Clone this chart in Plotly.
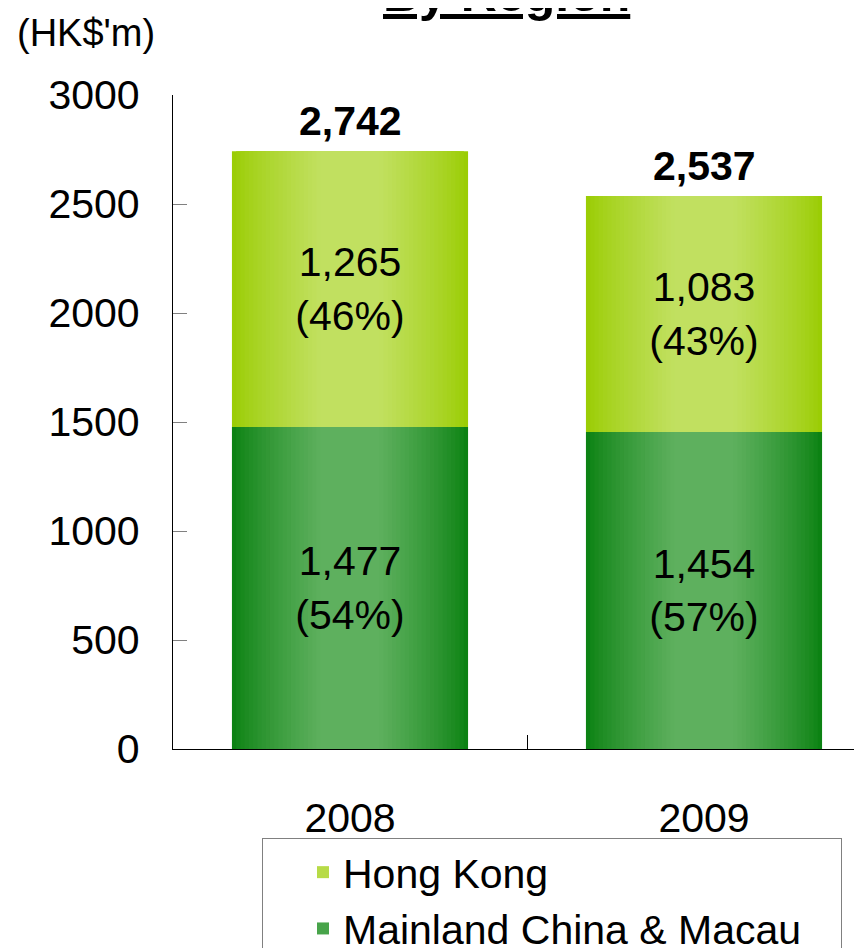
import plotly.graph_objects as go

# ---- data ----
years = ["2008", "2009"]
mainland = [1477, 1454]
hong_kong = [1265, 1083]
totals = [2742, 2537]
series_names = ["Hong Kong", "Mainland China & Macau"]
y_ticks = [0, 500, 1000, 1500, 2000, 2500, 3000]

FONT = "Liberation Sans, Arial, sans-serif"
FS = 41

# page offset of the figure inside the browser body (default 8px body margin)
OFF = 8
FIG_W, FIG_H = 862 + OFF, 948 + OFF
PL, PT, PB = 173, 95, 749          # plot left / top / bottom in screen px
PW = FIG_W - (PL - OFF)            # plot width (r margin 0)
PH = PB - PT
UNIT = 354                          # px per category


def px(sx):
    return (sx - PL) / PW


def py(sy):
    return (PB - sy) / PH


# colours (edge -> centre)
MAIN_EDGE, MAIN_CENTRE = (8, 128, 15), (94, 176, 94)
HK_EDGE, HK_CENTRE = (153, 204, 0), (193, 224, 96)

BAR_W = 0.667
N = 28
FLAT = 0.25


def mix(c1, c2, t):
    return "rgb(%d,%d,%d)" % tuple(round(a + (b - a) * t) for a, b in zip(c1, c2))


def layer_color(edge, centre, f):
    if f <= FLAT:
        return mix(edge, centre, 1.0)
    t = ((1 - f) / (1 - FLAT)) ** 0.8
    return mix(edge, centre, t)


fig = go.Figure()


def add_series(name, values, base, edge, centre, rank):
    mid_k = N // 2
    for k in range(N):
        frac = 1 - k / N
        f = 1 - (k + 0.5) / N
        if frac < FLAT - 1e-9:
            break
        col = layer_color(edge, centre, f if frac > FLAT + 1e-9 else 0)
        fig.add_trace(go.Bar(
            x=years, y=values, base=base, width=BAR_W * frac,
            marker=dict(color=col, line=dict(width=0)),
            name=name, legendgroup=name, legendrank=rank,
            showlegend=(k == mid_k), hoverinfo="skip",
        ))


add_series(series_names[1], mainland, [0, 0], MAIN_EDGE, MAIN_CENTRE, 2)
add_series(series_names[0], hong_kong, mainland, HK_EDGE, HK_CENTRE, 1)

# a little trailing room so the legend box is as wide as the original
for tr in fig.data:
    if tr.showlegend and tr.name == series_names[1]:
        tr.name = series_names[1] + "\u00a0" * 3

# in-bar labels
for vals, base in ((mainland, [0, 0]), (hong_kong, mainland)):
    labels = ["{:,}<br>({:.0f}%)".format(v, 100 * v / t) for v, t in zip(vals, totals)]
    fig.add_trace(go.Bar(
        x=years, y=vals, base=base, width=BAR_W,
        marker=dict(color="rgba(0,0,0,0)", line=dict(width=0)),
        text=labels, textposition="inside", insidetextanchor="middle",
        textangle=0, textfont=dict(family=FONT, size=FS, color="black"),
        showlegend=False, hoverinfo="skip",
    ))

annotations = []
# totals above the bars (x given as category index)
for i, t in enumerate(totals):
    annotations.append(dict(
        x=i, y=t, xref="x", yref="y", text="<b>{:,}</b>".format(t),
        showarrow=False, yanchor="bottom", yshift=5,
        font=dict(family=FONT, size=FS, color="black")))

annotations += [
    dict(text="(HK$'m)", xref="paper", yref="paper",
         x=px(15), y=py(33), xanchor="left", yanchor="middle",
         showarrow=False, font=dict(family=FONT, size=38, color="black")),
    dict(text="<b><u>By Region</u></b>", xref="paper", yref="paper",
         x=px(506), y=py(24), xanchor="center", yanchor="bottom",
         showarrow=False, font=dict(family=FONT, size=50, color="black")),
]

fig.update_layout(
    width=FIG_W, height=FIG_H,
    margin=dict(l=PL - OFF, r=0, t=PT - OFF, b=FIG_H - (PB - OFF), autoexpand=False),
    barmode="overlay",
    plot_bgcolor="white", paper_bgcolor="white",
    font=dict(family=FONT, size=FS, color="black"),
    showlegend=True,
    legend=dict(
        x=px(262), xanchor="left",
        y=py(838), yanchor="top",
        bordercolor="#808080", borderwidth=1,
        font=dict(family=FONT, size=41, color="black"),
        traceorder="normal", indentation=40,
        bgcolor="white",
    ),
    xaxis=dict(
        type="category", range=[-0.5, -0.5 + PW / UNIT],
        tickson="boundaries", ticks="inside", ticklen=14, tickwidth=1.3,
        tickcolor="black", showline=True, linecolor="black", linewidth=1.3,
        showgrid=False, zeroline=False, ticklabelstandoff=33, automargin=False,
        tickfont=dict(family=FONT, size=FS, color="black"),
    ),
    yaxis=dict(
        range=[0, 3000], tickvals=y_ticks, ticks="inside", ticklen=14,
        tickcolor="#808080", tickwidth=1.3, showline=True, linecolor="black",
        linewidth=1.3, showgrid=False, zeroline=False, ticklabelstandoff=24,
        automargin=False,
        tickfont=dict(family=FONT, size=FS, color="black"),
    ),
    annotations=annotations,
)

fig.write_html("out.html")
